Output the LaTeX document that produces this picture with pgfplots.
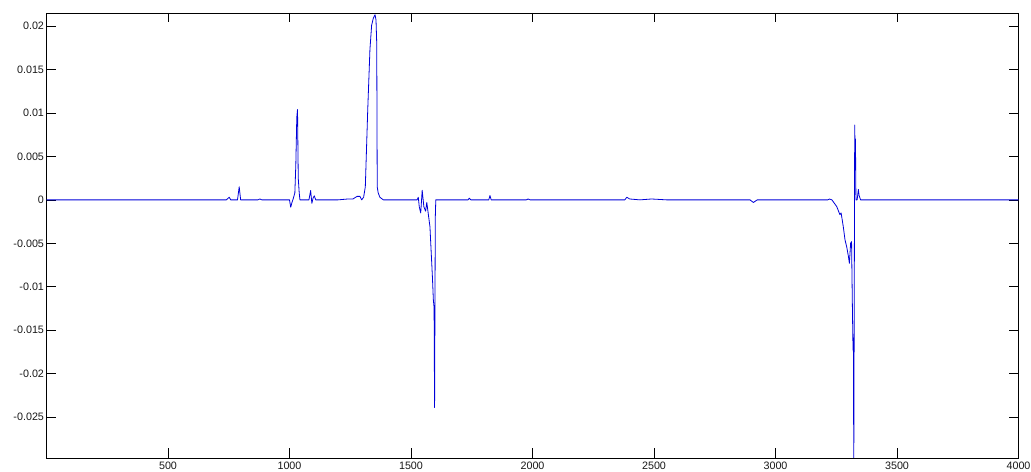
\documentclass[border=0pt]{standalone}
\usepackage{pgfplots}
\pgfplotsset{compat=1.18}
\usepackage{fontspec}
\setmainfont{Liberation Sans}
\definecolor{matblue}{rgb}{0,0,0.85}

\begin{document}
\begin{tikzpicture}[x=1bp,y=1bp]
\path[use as bounding box] (-46.5bp,-14bp) rectangle (984.5bp,458bp);
\begin{axis}[
    scale only axis,
    width=972bp, height=445bp,
    xmin=0, xmax=4000,
    ymin=-0.0297, ymax=0.0215,
    xtick={500,1000,...,4000},
    ytick={-0.025,-0.02,-0.015,-0.01,-0.005,0,0.005,0.01,0.015,0.02},
    tick align=inside,
    major tick length=9.5bp,
    tick style={black, line width=0.7bp},
    axis line style={black, line width=0.8bp},
    xtick pos=both, ytick pos=both,
    ticklabel style={font=\fontsize{10.8}{12}\selectfont, text=black!90},
    /pgf/number format/assume math mode=true,
    yticklabel style={/pgf/number format/fixed, /pgf/number format/precision=3},
    xticklabel style={/pgf/number format/1000 sep={}},
    scaled y ticks=false,
    scaled x ticks=false,
    yticklabel shift=-1bp,
]
\addplot[color=matblue, line width=0.8bp, line join=round] coordinates {
(0,0)(740,0)(752,0.0003)(758,0)(786,0)(793,0.0015)(799,0)(870,0)(878,0.0001)(886,0)
(1000,0)(1005,-0.00085)(1010,-0.0003)(1016,0.0002)(1022,0.0008)(1026,0.004)(1030,0.0095)(1033,0.0104)
(1036,0.0025)(1040,0.0008)(1043,0)(1080,0)(1087,0.00107)(1092,-0.0004)(1097,0.0002)
(1102,0.00046)(1108,0)(1200,0)(1240,0.0001)(1261,0.0001)(1278,0.0004)(1290,0.0004)
(1297,0)(1305,0.0003)(1312,0.0015)(1322,0.0104)(1331,0.0173)(1338,0.0201)(1345,0.0209)
(1352,0.0213)(1356,0.0207)(1359,0.018)(1361,0.0015)(1365,0.0008)(1372,0.0003)(1386,0)
(1525,0)(1530,0.0003)(1534,-0.0008)(1540,-0.0015)(1546,0.0011)(1553,-0.0008)(1560,-0.0013)
(1565,-0.0003)(1578,-0.0031)(1582,-0.0054)(1588,-0.0088)(1592,-0.0115)(1595,-0.0124)
(1597,-0.0239)(1600,-0.002)(1602,0)(1735,0)(1740,0.0002)(1746,0)(1820,0)(1825,0.0005)
(1830,0)(1975,0)(1982,0.0001)(1990,0)(2380,0)(2388,0.0003)(2400,0.0001)(2442,0)
(2490,0.0001)(2552,0)(2895,0)(2909,-0.0003)(2925,0)(3215,0)(3222,0.0001)(3232,0)
(3252,-0.00077)(3265,-0.0017)(3270,-0.0015)(3279,-0.0031)(3286,-0.0046)(3293,-0.0054)
(3300,-0.0065)(3304,-0.0073)(3307,-0.0060)(3309,-0.0050)(3313,-0.0048)(3316,-0.0115)
(3319,-0.0172)(3321,-0.0175)(3322,-0.032)(3326,0.0086)(3328,0.004)(3329,0.0070)
(3331,0)(3336,0)(3341,0.0012)(3344,0.0005)(3350,0)(4000,0)
};
\end{axis}
\end{tikzpicture}
\end{document}
